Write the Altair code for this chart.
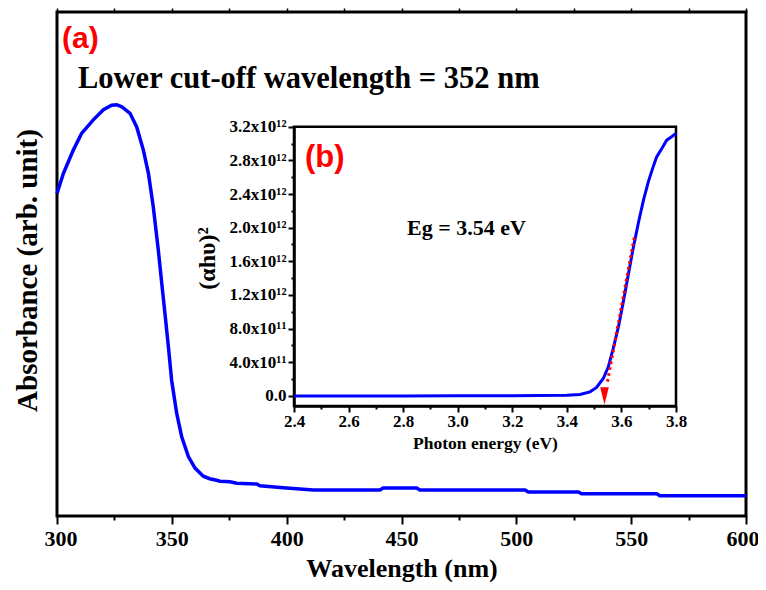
import altair as alt
import pandas as pd

# ---------------- data ----------------
wavelength = [300, 302.8, 307.1, 310.7, 315.8, 320.2, 323.8, 326, 328.2, 331.8, 334.7,
              337.6, 339.8, 341.9, 344.1, 345.6, 347.0, 348.5, 349.9, 352.1, 354.3,
              357.2, 360.1, 363.7, 366.5, 369.5, 371, 375.3, 378.2, 386.9, 388.4,
              398.5, 411.6, 440.6, 442, 456.6, 458, 503.8, 505.2, 527, 528.4,
              561.1, 562.5, 600]
absorbance = [0.640, 0.680, 0.726, 0.759, 0.786, 0.806, 0.815, 0.816, 0.812, 0.799, 0.772,
              0.726, 0.680, 0.614, 0.528, 0.462, 0.402, 0.336, 0.270, 0.204, 0.157,
              0.118, 0.095, 0.079, 0.074, 0.071, 0.069, 0.068, 0.065, 0.0635, 0.060,
              0.056, 0.0516, 0.0516, 0.0556, 0.0556, 0.0516, 0.0516, 0.0476, 0.0476, 0.044,
              0.044, 0.040, 0.040]

energy = [2.4, 2.8, 3.0, 3.2, 3.3, 3.4, 3.448, 3.485, 3.509, 3.534, 3.552, 3.570,
          3.589, 3.607, 3.626, 3.644, 3.663, 3.681, 3.699, 3.718, 3.729, 3.748,
          3.766, 3.784, 3.8]
alpha_hv_sq = [0.0, 0.0, 0.001e12, 0.002e12, 0.004e12, 0.008e12, 0.017e12, 0.048e12,
               0.10e12, 0.21e12, 0.345e12, 0.564e12, 0.82e12, 1.12e12, 1.456e12,
               1.77e12, 2.07e12, 2.33e12, 2.55e12, 2.74e12, 2.84e12, 2.94e12,
               3.04e12, 3.08e12, 3.12e12]

fit_energy = [3.549, 3.648]
fit_value = [0.17e12, 1.9e12]
eg_energy = [3.538]
eg_value = [0.0]

main_ticks = [300, 325, 350, 375, 400, 425, 450, 475, 500, 525, 550, 575, 600]
inset_x_ticks = [2.4, 2.5, 2.6, 2.7, 2.8, 2.9, 3.0, 3.1, 3.2, 3.3, 3.4, 3.5, 3.6, 3.7, 3.8]
inset_y_ticks = [0, 2e11, 4e11, 6e11, 8e11, 1.0e12, 1.2e12, 1.4e12, 1.6e12, 1.8e12,
                 2.0e12, 2.2e12, 2.4e12, 2.6e12, 2.8e12, 3.0e12, 3.2e12]

label_a = ["(a)"]
label_cutoff = ["Lower cut-off wavelength = 352 nm"]
label_b = ["(b)"]
label_eg = ["Eg = 3.54 eV"]

SERIF = "Liberation Serif, 'Times New Roman', 'DejaVu Serif', serif"
SANS = "Liberation Sans, Arial, 'DejaVu Sans', sans-serif"
BLUE = "#0000FF"
RED = "#FF0000"

main_df = pd.DataFrame({"wl": wavelength, "v": absorbance})
inset_df = pd.DataFrame({"E": energy, "a2": alpha_hv_sq})
fit_df = pd.DataFrame({"E": fit_energy, "a2": fit_value})
eg_df = pd.DataFrame({"E": eg_energy, "a2": eg_value})
box_df = pd.DataFrame({"E": [inset_x_ticks[0]], "E2": [inset_x_ticks[-1]],
                       "a2": [-1.2e11], "a22": [inset_y_ticks[-1]]})

# ---------------- main chart ----------------
main_x_scale = alt.Scale(domain=[300, 600], nice=False, zero=False)
main_y_scale = alt.Scale(domain=[0, 1], nice=False, zero=False)

main_x_axis = alt.Axis(
    title="Wavelength (nm)", values=main_ticks, format="d",
    labelExpr="datum.value % 50 === 0 ? datum.label : ''",
    tickSize=8, tickWidth=2, tickColor="black",
    tickDash={"condition": {"test": "datum.value % 50 !== 0", "value": [4, 30]},
              "value": [8, 0]},
    labelFont=SERIF, labelFontWeight="bold", labelFontSize=22, labelColor="black",
    labelPadding=4, labelFlush=True, labelFlushOffset=13, labelOverlap=False,
    domain=False, grid=False,
    titleFont=SERIF, titleFontWeight="bold", titleFontSize=26, titleColor="black",
    titleY=60, titleBaseline="alphabetic")

main_y_axis = alt.Axis(
    title="Absorbance (arb. unit)", labels=False, ticks=False, domain=False, grid=False,
    titleFont=SERIF, titleFontWeight="bold", titleFontSize=29, titleColor="black",
    titleAngle=270, titleX=-21, titleY=258, titleBaseline="alphabetic", titleAlign="center")

main_line = alt.Chart(main_df).mark_line(color=BLUE, strokeWidth=3.5).encode(
    x=alt.X("wl:Q", scale=main_x_scale, axis=main_x_axis),
    y=alt.Y("v:Q", scale=main_y_scale, axis=main_y_axis),
)

top_ticks = alt.Chart(main_df).mark_line(opacity=0).encode(
    x=alt.X("wl:Q", scale=main_x_scale,
            axis=alt.Axis(orient="top", values=main_ticks, labels=False, domain=False,
                          grid=False, tickSize=4, tickWidth=1.5, tickColor="black", title=None)),
    y=alt.Y("v:Q", scale=main_y_scale, axis=None),
)

# ---------------- inset ----------------
inset_x_scale = alt.Scale(domain=[2.4, 3.8], range=[237, 619], nice=False, zero=False)
inset_y_scale = alt.Scale(domain=[-1.2e11, 3.2e12], range=[394, 114.7], nice=False, zero=False)

inset_x_axis = alt.Axis(
    title="Photon energy (eV)", orient="bottom", offset=-110, values=inset_x_ticks,
    labelExpr="round(datum.value * 10) % 2 !== 0 ? '' : format(datum.value, '.1f')",
    tickSize=6, tickWidth=2, tickColor="black",
    tickDash={"condition": {"test": "round(datum.value * 10) % 2 !== 0", "value": [3, 30]},
              "value": [6, 0]},
    labelFont=SERIF, labelFontWeight="bold", labelFontSize=17, labelColor="black",
    labelPadding=1, labelFlush=False, labelOverlap=False,
    domain=True, domainColor="black", domainWidth=2.5, grid=False,
    titleFont=SERIF, titleFontWeight="bold", titleFontSize=17.5, titleColor="black",
    titleY=42, titleBaseline="alphabetic")

inset_y_label = ("round(datum.value / 2e11) % 2 !== 0 ? '' : "
                 "datum.value === 0 ? '0.0' : "
                 "datum.value < 1e12 ? format(datum.value / 1e11, '.1f') + 'x10\u00b9\u00b9' : "
                 "format(datum.value / 1e12, '.1f') + 'x10\u00b9\u00b2'")

inset_y_axis = alt.Axis(
    title="(\u03b1h\u03c5)\u00b2", orient="left", offset=-237, values=inset_y_ticks,
    labelExpr=inset_y_label,
    tickSize=6, tickWidth=2, tickColor="black",
    tickDash={"condition": {"test": "round(datum.value / 2e11) % 2 !== 0", "value": [3, 30]},
              "value": [6, 0]},
    labelFont=SERIF, labelFontWeight="bold", labelFontSize=17, labelColor="black",
    labelPadding=2, labelFlush=False, labelOverlap=False,
    domain=True, domainColor="black", domainWidth=2.5, grid=False,
    titleFont=SERIF, titleFontWeight="bold", titleFontSize=24, titleColor="black",
    titleAngle=270, titleX=-80, titleY=246, titleBaseline="alphabetic", titleAlign="center")

ix = alt.X("E:Q", scale=inset_x_scale, axis=inset_x_axis)
iy = alt.Y("a2:Q", scale=inset_y_scale, axis=inset_y_axis)

inset_box = alt.Chart(box_df).mark_rect(fill=None, fillOpacity=0, stroke="black",
                                        strokeWidth=2.5).encode(
    x=ix, x2="E2:Q", y=iy, y2="a22:Q")
inset_line = alt.Chart(inset_df).mark_line(color=BLUE, strokeWidth=3).encode(x=ix, y=iy)
inset_fit = alt.Chart(fit_df).mark_line(color=RED, strokeWidth=3,
                                        strokeDash=[2.5, 3.5]).encode(x=ix, y=iy)
inset_arrow = alt.Chart(eg_df).mark_point(
    shape="M-0.5,-1L0.5,-1L0,1Z", size=300, filled=True, color=RED, opacity=1
).encode(x=ix, y=iy)

inset = alt.layer(inset_box, inset_line, inset_fit, inset_arrow)

# ---------------- annotations ----------------
def note(text, x, y, font, size, color):
    return alt.Chart(pd.DataFrame({"t": text})).mark_text(
        font=font, fontWeight="bold", fontSize=size, color=color,
        align="left", baseline="middle"
    ).encode(text="t:N", x=alt.value(x), y=alt.value(y))

notes = [
    note(label_a, 5, 27, SANS, 30, RED),
    note(label_cutoff, 21, 67, SERIF, 30.5, "black"),
    note(label_b, 248, 146, SANS, 31, RED),
    note(label_eg, 350, 216, SERIF, 22, "black"),
]

chart = alt.layer(main_line, top_ticks, inset, *notes).resolve_scale(
    x="independent", y="independent"
).resolve_axis(
    x="independent", y="independent"
).properties(
    width=689, height=504,
    padding={"left": 49, "top": 4, "right": 12, "bottom": 66},
    autosize=alt.AutoSizeParams(type="none"),
    background="white",
).configure_view(stroke="black", strokeWidth=3)

chart.save("out.html", embed_options={"renderer": "svg", "actions": False})
